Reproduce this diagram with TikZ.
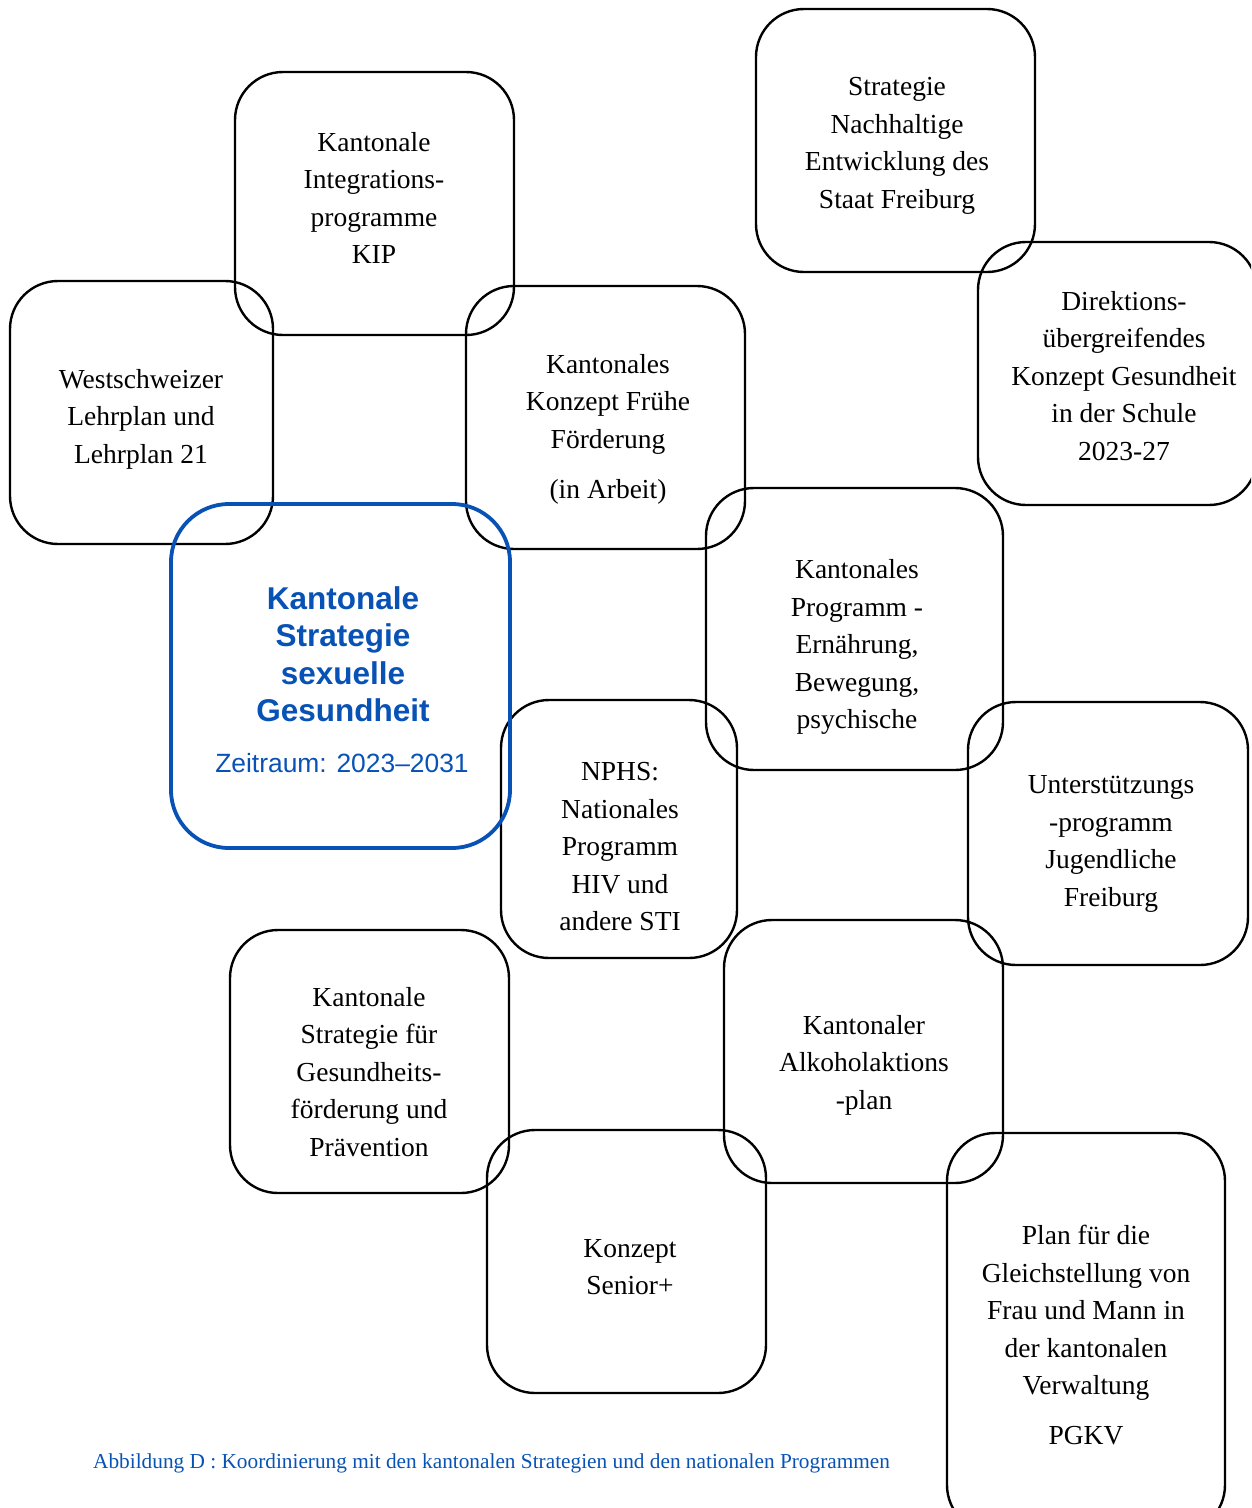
\documentclass[tikz,border=0pt]{standalone}
\usepackage{fontspec}
\setmainfont{Liberation Serif}
\newfontfamily\arialfont{Liberation Sans}
\definecolor{stratblue}{RGB}{8,82,182}
\begin{document}
\begin{tikzpicture}[x=1pt,y=-1pt,
  box/.style={draw=black, line width=2.4pt, rounded corners=48pt, rectangle, inner sep=0pt, outer sep=0pt},
  bluebox/.style={draw=stratblue, line width=3.8pt, rounded corners=58pt, rectangle, inner sep=0pt, outer sep=0pt},
  txt/.style={align=center, inner sep=0pt, font=\fontsize{27.5}{37.5}\selectfont},
]
\useasboundingbox (0,0) rectangle (1251,1508);
\clip (0,0) rectangle (1251,1508);
% boxes
\node[box, minimum width=279pt, minimum height=263pt] (bKIP) at (374.5,203.5) {};
\node[box, minimum width=279pt, minimum height=263pt] (bNach) at (895.5,140.5) {};
\node[box, minimum width=263pt, minimum height=263pt] (bWest) at (141.5,412.5) {};
\node[box, minimum width=279pt, minimum height=263pt] (bFrueh) at (605.5,417.5) {};
\node[box, minimum width=279pt, minimum height=263pt] (bDir) at (1117.5,373.5) {};
\node[box, minimum width=297pt, minimum height=282pt] (bProg) at (854.5,629) {};
\node[box, minimum width=236pt, minimum height=258pt] (bNPHS) at (619,829) {};
\node[box, minimum width=280pt, minimum height=263pt] (bUnt) at (1108,833.5) {};
\node[box, minimum width=279pt, minimum height=263pt] (bGes) at (369.5,1061.5) {};
\node[box, minimum width=279pt, minimum height=263pt] (bAlk) at (863.5,1051.5) {};
\node[box, minimum width=279pt, minimum height=263pt] (bSen) at (626.5,1261.5) {};
\node[box, minimum width=278pt, minimum height=400pt] (bPlan) at (1086,1333) {};
\node[bluebox, minimum width=339pt, minimum height=344pt] (bMain) at (340.5,676) {};
% texts
\node[txt] (tKIP) at (374,198) {Kantonale\\Integrations-\\programme\\KIP};
\node[txt] (tNach) at (897,146) {Strategie\\Nachhaltige\\Entwicklung des\\Staat Freiburg};
\node[txt] (tWest) at (141,419) {Westschweizer\\Lehrplan und\\Lehrplan 21};
\node[txt] (tFrueh) at (608,404) {Kantonales\\Konzept Frühe\\Förderung};
\node[txt] (tFrueh2) at (608,492) {(in Arbeit)};
\node[txt] (tDir) at (1124,376) {Direktions-\\übergreifendes\\Konzept Gesundheit\\in der Schule\\2023-27};
\node[txt] (tProg) at (857,647) {Kantonales\\Programm -\\Ernährung,\\Bewegung,\\psychische};
\node[txt] (tNPHS) at (620,847) {NPHS:\\Nationales\\Programm\\HIV und\\andere STI};
\node[txt] (tUnt) at (1111,844) {Unterstützungs\\-programm\\Jugendliche\\Freiburg};
\node[txt] (tGes) at (369,1072) {Kantonale\\Strategie für\\Gesundheits-\\förderung und\\Prävention};
\node[txt] (tAlk) at (864,1065) {Kantonaler\\Alkoholaktions\\-plan};
\node[txt] (tSen) at (630,1267) {Konzept\\Senior+};
\node[txt] (tPlan) at (1086,1313) {Plan für die\\Gleichstellung von\\Frau und Mann in\\der kantonalen\\Verwaltung};
\node[txt] (tPlan2) at (1086,1436) {PGKV};
\node[align=center, inner sep=0pt, text=stratblue, font=\arialfont\bfseries\fontsize{31.5}{37.5}\selectfont] (tMain) at (343,654) {Kantonale\\Strategie\\sexuelle\\Gesundheit};
\node[inner sep=0pt, text=stratblue, font=\arialfont\fontsize{26.4}{30}\selectfont] (tZeit) at (342,763) {Zeitraum: 2023–2031};
\node[anchor=west, inner sep=0pt, text=stratblue, font=\fontsize{21.3}{24}\selectfont] (cap) at (93,1463) {Abbildung D : Koordinierung mit den kantonalen Strategien und den nationalen Programmen};
\end{tikzpicture}
\end{document}
